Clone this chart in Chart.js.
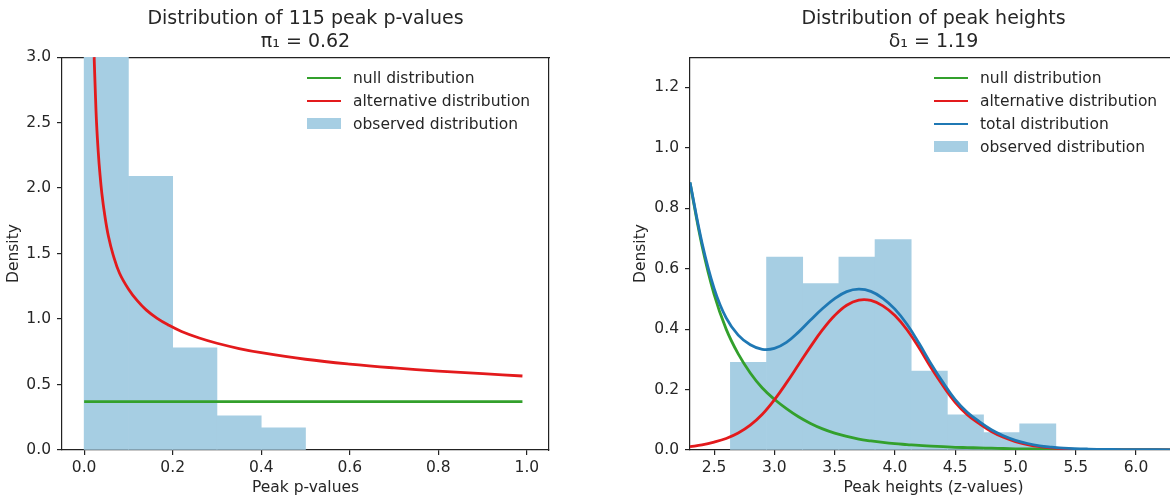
<!DOCTYPE html>
<html>
<head>
<meta charset="utf-8">
<title>Peak distributions</title>
<script src="https://cdn.jsdelivr.net/npm/chart.js@4.4.1/dist/chart.umd.min.js"></script>
<style>
  html, body { margin: 0; padding: 0; background: #fff; }
  body { width: 1170px; height: 504px; overflow: hidden; position: relative; }
  .panel { position: absolute; top: 0; height: 504px; }
  #leftPanel { left: 0; width: 611px; }
  #rightPanel { left: 620px; width: 627px; }
  .legend { position: absolute; font: 15.5px "DejaVu Sans", sans-serif; color: #262626; }
  .legend .row { display: flex; align-items: center; height: 23px; white-space: nowrap; }
  .legend .swatch { width: 34px; margin-right: 12px; flex: none; }
</style>
</head>
<body>
<div class="panel" id="leftPanel">
  <canvas id="pvalChart" width="611" height="504"></canvas>
  <div class="legend" id="pvalLegend"></div>
</div>
<div class="panel" id="rightPanel">
  <canvas id="heightChart" width="627" height="504"></canvas>
  <div class="legend" id="heightLegend"></div>
</div>
<script>
const FONT = '"DejaVu Sans", sans-serif';
const INK = '#262626';
const SPINE = '#222';

// left panel: peak p-values
const pBinCentres = [0.05, 0.15, 0.25, 0.35, 0.45];
const pBinDensity = [6.70, 2.09, 0.78, 0.26, 0.17];
const pNullX = [0, 0.99];
const pNullY = [0.37, 0.37];
const pAltX = [0.0226, 0.025, 0.028, 0.032, 0.0354, 0.04, 0.0467, 0.055, 0.0655, 0.08, 0.1, 0.12, 0.14,
               0.165, 0.19, 0.22, 0.26, 0.3, 0.35, 0.4, 0.5, 0.6, 0.7, 0.8, 0.9, 0.99];
const pAltY = [3.0, 2.76, 2.5, 2.27, 2.12, 1.96, 1.79, 1.63, 1.49, 1.35, 1.23, 1.14, 1.07,
               1.005, 0.955, 0.905, 0.855, 0.815, 0.775, 0.743, 0.693, 0.656, 0.627, 0.603, 0.583, 0.565];
const pXTicks = [0, 0.2, 0.4, 0.6, 0.8, 1.0];
const pYTicks = [0, 0.5, 1.0, 1.5, 2.0, 2.5, 3.0];

// right panel: peak heights
const hBinCentres = [2.785, 3.085, 3.385, 3.685, 3.985, 4.285, 4.585, 4.885, 5.185];
const hBinDensity = [0.290, 0.638, 0.551, 0.638, 0.696, 0.261, 0.116, 0.058, 0.087];
const hCurveX = [2.3, 2.4, 2.5, 2.6, 2.7, 2.8, 2.9, 3.0, 3.1, 3.2, 3.3, 3.4, 3.5, 3.6, 3.7, 3.8, 3.9, 4.0,
                 4.1, 4.2, 4.3, 4.4, 4.5, 4.6, 4.7, 4.8, 4.9, 5.0, 5.1, 5.2, 5.3, 5.4, 5.6, 5.8, 6.0, 6.34];
const hNullY = [0.884, 0.675, 0.515, 0.40, 0.318, 0.255, 0.205, 0.168, 0.137, 0.11, 0.088, 0.07, 0.056, 0.045,
                0.036, 0.03, 0.025, 0.021, 0.018, 0.015, 0.013, 0.011, 0.009, 0.008, 0.007, 0.006, 0.005,
                0.004, 0.0035, 0.003, 0.0026, 0.0022, 0.0017, 0.0013, 0.001, 0.0007];
const hAltY = [0.011, 0.017, 0.026, 0.038, 0.056, 0.082, 0.118, 0.166, 0.222, 0.282, 0.342, 0.398, 0.445, 0.479,
               0.496, 0.495, 0.477, 0.445, 0.398, 0.338, 0.272, 0.212, 0.158, 0.117, 0.087, 0.061, 0.042,
               0.028, 0.018, 0.011, 0.007, 0.004, 0.0015, 0.0005, 0.0002, 0];
const hTotalY = [0.886, 0.685, 0.535, 0.437, 0.38, 0.348, 0.333, 0.336, 0.356, 0.39, 0.43, 0.468, 0.501, 0.524,
                 0.532, 0.525, 0.502, 0.466, 0.416, 0.353, 0.285, 0.223, 0.167, 0.125, 0.094, 0.067, 0.047,
                 0.032, 0.0215, 0.014, 0.0096, 0.0062, 0.0032, 0.0018, 0.0012, 0.0007];
const hXTicks = [2.5, 3.0, 3.5, 4.0, 4.5, 5.0, 5.5, 6.0];
const hYTicks = [0, 0.2, 0.4, 0.6, 0.8, 1.0, 1.2];

const NULL_COLOR = '#33a02c';
const ALT_COLOR = '#e31a1c';
const TOTAL_COLOR = '#1f78b4';
const HIST_COLOR = '#a6cee3';

const pts = (xs, ys) => xs.map((x, i) => ({ x, y: ys[i] }));

function curve(label, xs, ys, color, order) {
  return {
    type: 'line', label, data: pts(xs, ys),
    borderColor: color, backgroundColor: color, borderWidth: 2.8,
    pointRadius: 0, tension: 0.4, fill: false, order
  };
}

function hist(label, xs, ys) {
  return {
    type: 'bar', label, data: pts(xs, ys),
    backgroundColor: HIST_COLOR, borderWidth: 0,
    barPercentage: 1, categoryPercentage: 1, order: 9
  };
}

// axis with ticks, label and spine
function axis(position, min, max, tickList, title, size, titlePad) {
  const horizontal = position === 'bottom';
  return {
    type: 'linear', position, min, max, offset: false,
    afterBuildTicks: s => { s.ticks = tickList.map(v => ({ value: v })); },
    afterFit: s => { if (horizontal) s.height = size; else s.width = size; },
    ticks: {
      font: { family: FONT, size: 15.5 }, color: INK, padding: horizontal ? 4 : 6,
      autoSkip: false, maxRotation: 0, callback: v => v.toFixed(1)
    },
    grid: { offset: false, drawOnChartArea: false, drawTicks: true, tickLength: 5, color: SPINE, lineWidth: 1.2 },
    border: { display: true, color: SPINE, width: 1.2 },
    title: { display: true, text: title, color: INK, font: { family: FONT, size: 15.5 }, padding: titlePad }
  };
}

// bare spine for the top and right edges of the frame
function frame(position, size) {
  return {
    type: 'linear', position, offset: false,
    afterFit: s => { if (s.isHorizontal()) s.height = size; else s.width = size; },
    ticks: { display: false },
    grid: { display: false },
    border: { display: true, color: SPINE, width: 1.2 }
  };
}

const htmlLegend = {
  id: 'htmlLegend',
  afterUpdate(chart, args, opts) {
    const box = document.getElementById(opts.containerID);
    box.innerHTML = '';
    chart.data.datasets.forEach(ds => {
      const row = document.createElement('div');
      row.className = 'row';
      const sw = document.createElement('span');
      sw.className = 'swatch';
      if (ds.type === 'bar') {
        sw.style.height = '11px';
        sw.style.background = ds.backgroundColor;
      } else {
        sw.style.borderTop = ds.borderWidth + 'px solid ' + ds.borderColor;
      }
      const txt = document.createElement('span');
      txt.textContent = ds.label;
      row.append(sw, txt);
      box.appendChild(row);
    });
    box.style.left = (chart.chartArea.left + opts.left) + 'px';
    box.style.top = (chart.chartArea.top + opts.top) + 'px';
  }
};

function titleOpts(lines) {
  return {
    display: true, text: lines, color: INK,
    font: { family: FONT, size: 19, weight: 'normal', lineHeight: 1.24 },
    padding: { top: 7, bottom: 3 }
  };
}

const common = {
  responsive: false,
  devicePixelRatio: 1,
  animation: false,
  events: [],
  layout: { padding: 0 }
};

new Chart(document.getElementById('pvalChart'), {
  type: 'bar',
  data: {
    datasets: [
      curve('null distribution', pNullX, pNullY, NULL_COLOR, 2),
      curve('alternative distribution', pAltX, pAltY, ALT_COLOR, 1),
      hist('observed distribution', pBinCentres, pBinDensity)
    ]
  },
  options: {
    ...common,
    scales: {
      x: axis('bottom', -0.05, 1.05, pXTicks, 'Peak p-values', 54, { top: 4, bottom: 7 }),
      y: axis('left', 0, 3, pYTicks, 'Density', 62, { top: 5, bottom: 0 }),
      xTop: frame('top', 0),
      yRight: frame('right', 62)
    },
    plugins: {
      legend: { display: false },
      tooltip: { enabled: false },
      title: titleOpts(['Distribution of 115 peak p-values', 'π₁ = 0.62']),
      htmlLegend: { containerID: 'pvalLegend', left: 245, top: 9 }
    }
  },
  plugins: [htmlLegend]
});

new Chart(document.getElementById('heightChart'), {
  type: 'bar',
  data: {
    datasets: [
      curve('null distribution', hCurveX, hNullY, NULL_COLOR, 3),
      curve('alternative distribution', hCurveX, hAltY, ALT_COLOR, 2),
      curve('total distribution', hCurveX, hTotalY, TOTAL_COLOR, 1),
      hist('observed distribution', hBinCentres, hBinDensity)
    ]
  },
  options: {
    ...common,
    scales: {
      x: axis('bottom', 2.3, 6.34, hXTicks, 'Peak heights (z-values)', 54, { top: 4, bottom: 7 }),
      y: axis('left', 0, 1.3, hYTicks, 'Density', 70, { top: 12, bottom: 0 }),
      xTop: frame('top', 0),
      yRight: frame('right', 70)
    },
    plugins: {
      legend: { display: false },
      tooltip: { enabled: false },
      title: titleOpts(['Distribution of peak heights', 'δ₁ = 1.19']),
      htmlLegend: { containerID: 'heightLegend', left: 244, top: 9 }
    }
  },
  plugins: [htmlLegend]
});
</script>
</body>
</html>
